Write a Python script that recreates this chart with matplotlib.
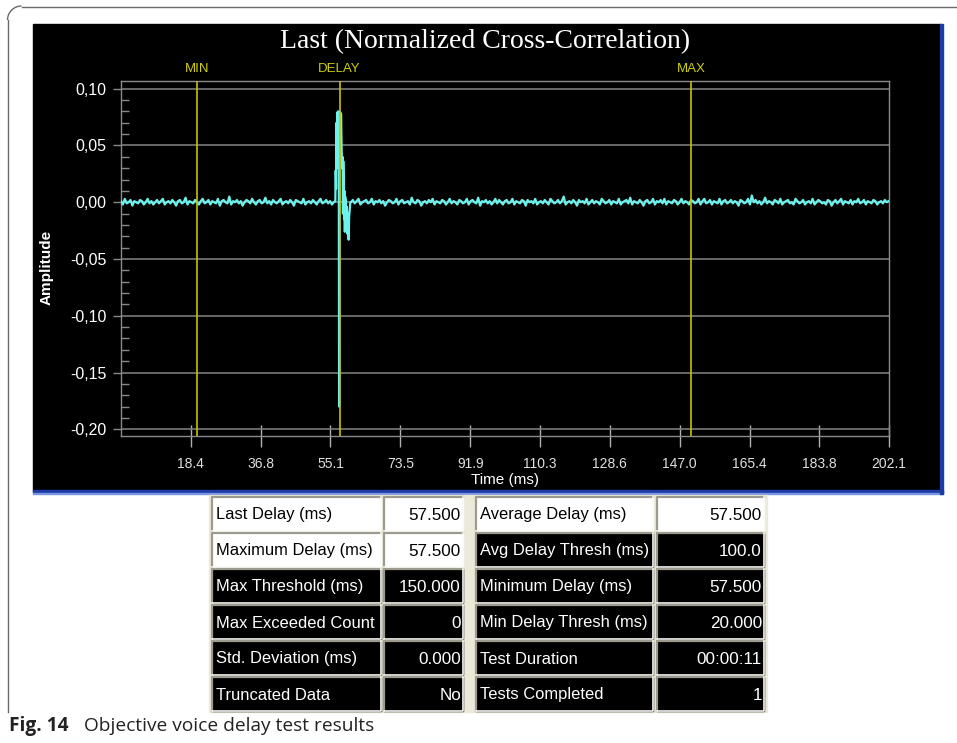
import numpy as np
import matplotlib
matplotlib.use('Agg')
import matplotlib.pyplot as plt
from matplotlib.patches import Rectangle, Arc
from matplotlib.lines import Line2D
from matplotlib.ticker import AutoMinorLocator

W, H = 957, 743

# --- data ---
sample_step = 0.5  # ms between baseline samples

# baseline noise before the correlation peak, in 1e-3 amplitude units (0 .. 56 ms)
noise_before = [
    1, -2, 3, -1, 0, 2, -3, 1, 0, -1, 2, 1, -2, 0, 3, -1, 1, -2, 0, 2,
    -1, 1, 3, -2, 0, 1, -1, 2, 0, -3, 1, 2, -1, 0, 4, -2, 1, 0, -1, 2,
    0, -2, 1, 3, -1, 0, 2, -2, 1, 0, -1, 3, -3, 1, 2, 0, -1, 5, -2, 1,
    0, 2, -1, 1, -3, 0, 2, 1, -1, 3, 0, -2, 1, 2, -1, 0, 4, -1, 1, -2,
    2, 0, -1, 1, 3, -2, 0, 1, -1, 2, 0, -3, 2, 1, 0, -1, 3, -2, 0, 1,
    -1, 2, 0, -2, 1, 3, -1, 0, 2, -1, 1, -2, 0,
]
# the peak itself (ms, amplitude)
spike_t = [56.4, 56.5, 56.6, 56.7, 56.8, 56.9, 57.0, 57.1, 57.2, 57.3, 57.4,
           57.5, 57.6, 57.7, 57.8, 57.9, 58.0, 58.1, 58.2, 58.3, 58.4, 58.5,
           58.6, 58.7, 58.8, 58.9, 59.0, 59.1, 59.2, 59.3, 59.45, 59.6, 59.75,
           59.9, 60.05, 60.2, 60.35]
spike_v = [0.001, 0.028, 0.012, 0.070, 0.030, 0.079, 0.050, 0.080, 0.065,
           0.079, -0.180, 0.080, 0.070, 0.079, 0.045, 0.078, 0.060, 0.040,
           0.030, 0.040, -0.010, 0.036, 0.020, -0.015, 0.010, -0.026, 0.005,
           -0.012, 0.002, -0.020, -0.004, -0.028, -0.010, -0.033, -0.012,
           -0.006, 0.000]
# baseline noise after the peak, 1e-3 units (60.5 .. 202 ms)
after_start = 60.5
noise_after = [
    0, 2, -1, 1, 3, -2, 0, 1, 2, -1, 0, 3, -2, 1, 0, 2, -1, 1, -3, 0,
    2, 1, -1, 0, 3, -2, 1, 2, -1, 0, 1, -2, 4, 0, -1, 2, 1, -3, 0, 1,
    -1, 2, 0, 3, -2, 1, 0, -1, 2, 1, -2, 0, 3, -1, 1, 0, -2, 2, 1, -1,
    0, 3, -2, 1, 2, 0, -1, 4, -3, 1, 0, 2, -1, 1, -2, 0, 3, -1, 2, 0,
    -2, 1, 2, -1, 0, 3, -2, 1, 0, -1, 2, 1, -3, 2, 0, 1, -1, 3, -2, 0,
    1, -1, 2, 0, -2, 3, 1, -1, 0, 2, -1, 1, 5, -2, 0, 1, -1, 2, 0, -3,
    2, 0, 1, -1, 3, -2, 0, 2, -1, 1, 0, -2, 3, 1, -1, 0, 2, -2, 1, 0,
    -1, 3, -2, 0, 1, 2, -1, 4, -2, 1, 0, -1, 2, 0, -3, 1, 2, -1, 0, 3,
    -2, 1, 0, 2, -1, 3, -2, 1, 0, -1, 2, 1, -2, 0, 3, -1, 1, 0, -2, 2,
    1, -1, 0, 3, -2, 1, 3, -1, 0, 2, -2, 1, 0, -1, 3, -2, 1, 2, -1, 0,
    2, -1, 1, 0, -3, 2, 1, -1, 0, 3, -2, 6, 0, 2, -1, 1, -2, 0, 4, -1,
    1, 0, -2, 2, 1, -1, 3, -2, 0, 1, 2, -1, 0, -2, 3, 1, -1, 0, 2, -2,
    0, 1, -1, 3, -2, 0, 2, 1, -1, 0, -2, 2, 1, -3, 0, 2, -1, 1, 3, -2,
    1, 0, -1, 2, -2, 1, 0, 3, -1, 0, 2, -2, 1, 0, -1, 2, 1, -2, 0, 1,
    -1, 2, 0, 1,
]

marker_names = ['MIN', 'DELAY', 'MAX']
marker_ms = [20.0, 57.5, 150.0]

xtick_labels = ['18.4', '36.8', '55.1', '73.5', '91.9', '110.3', '128.6',
                '147.0', '165.4', '183.8', '202.1']
ytick_vals = [0.10, 0.05, 0.00, -0.05, -0.10, -0.15, -0.20]

left_labels = ['Last Delay (ms)', 'Maximum Delay (ms)', 'Max Threshold (ms)',
               'Max Exceeded Count', 'Std. Deviation (ms)', 'Truncated Data']
left_values = ['57.500', '57.500', '150.000', '0', '0.000', 'No']
right_labels = ['Average Delay (ms)', 'Avg Delay Thresh (ms)', 'Minimum Delay (ms)',
                'Min Delay Thresh (ms)', 'Test Duration', 'Tests Completed']
right_values = ['57.500', '100.0', '57.500', '20.000', '00:00:11', '1']
# cells shown with white background (row, col)
white_cells = {(0, 0), (0, 1), (0, 2), (0, 3), (1, 0), (1, 1)}

# --- build the trace ---
t = np.concatenate([np.arange(len(noise_before)) * sample_step,
                    spike_t,
                    after_start + np.arange(len(noise_after)) * sample_step])
amp = np.concatenate([np.array(noise_before) * 1e-3,
                      spike_v,
                      np.array(noise_after) * 1e-3])

sans = ['Liberation Sans', 'DejaVu Sans']

fig = plt.figure(figsize=(W / 100, H / 100), dpi=100)
fig.patch.set_facecolor('white')

# background layer in pixel coordinates
bg = fig.add_axes([0, 0, 1, 1], zorder=0)
bg.set_xlim(0, W)
bg.set_ylim(H, 0)
bg.axis('off')

# outer rounded frame (top + left only)
frame_c = '#6a6a6a'
bg.add_line(Line2D([7.5, 7.5], [712, 20], color=frame_c, lw=1))
bg.add_patch(Arc((21.5, 20), 28, 28, theta1=180, theta2=270, color=frame_c, lw=1))
bg.add_line(Line2D([21.5, W], [6.5, 6.5], color=frame_c, lw=1))

# black screenshot panel with blue window edge
bg.add_patch(Rectangle((33, 24), 908, 467, color='black'))
bg.add_patch(Rectangle((33, 490), 910, 2.5, color='#1d3aa6'))
bg.add_patch(Rectangle((33, 492.5), 910, 1.5, color='#7894e0'))
bg.add_patch(Rectangle((940, 24), 2.5, 470, color='#1d3aa6'))

# results table
col_x = [(212, 381), (384, 463), (476, 653), (657, 764)]
row_top, row_pitch, row_h = 497, 36, 34
bg.add_patch(Rectangle((209, 495), 558, 217, color='#ece9d8'))
for r in range(len(left_labels)):
    texts = [left_labels[r], left_values[r], right_labels[r], right_values[r]]
    y0 = row_top + r * row_pitch
    for c, (x0, x1) in enumerate(col_x):
        is_white = (r, c) in white_cells
        fill = 'white' if is_white else 'black'
        bg.add_patch(Rectangle((x0, y0), x1 - x0, row_h, color=fill))
        bg.add_line(Line2D([x0, x0, x1], [y0 + row_h, y0, y0], color='#9d9b90', lw=1.6))
        bg.add_line(Line2D([x1, x1, x0], [y0, y0 + row_h, y0 + row_h], color='#faf9f5', lw=1.2))
        tc = 'black' if is_white else 'white'
        if c in (0, 2):
            bg.text(x0 + 4, y0 + row_h / 2 + 1, texts[c], ha='left', va='center',
                    color=tc, fontsize=11.9, family=sans)
        else:
            bg.text(x1 - 2, y0 + row_h / 2 + 1, texts[c], ha='right', va='center',
                    color=tc, fontsize=12.3, family=sans)

# caption
cap_font = ['Open Sans', 'DejaVu Sans']
fig.text(9 / W, 1 - 726 / H, 'Fig. 14', fontsize=13.8, fontweight='bold',
         family=cap_font, va='center', ha='left', color='#222222')
fig.text(84 / W, 1 - 726 / H, 'Objective voice delay test results', fontsize=13.8,
         family=cap_font, va='center', ha='left', color='#222222')

# --- correlation plot ---
ax = fig.add_axes([121 / W, 1 - 436 / H, (889 - 121) / W, (436 - 81) / H], zorder=1)
ax.set_facecolor('black')
ax.set_xlim(0, 202.1)
ax.set_ylim(-0.2059, 0.1068)

ax.plot(t, amp, color='#6cf2ec', lw=1.6, zorder=3)
for name, ms in zip(marker_names, marker_ms):
    ax.axvline(ms, color='#c8c000', lw=1.2, zorder=4)
    ax.text(ms, 1.034, name, transform=ax.get_xaxis_transform(), ha='center',
            va='center', color='#d0d000', fontsize=9.5, family=sans)

ax.set_yticks(ytick_vals)
ax.set_yticklabels([f'{v:.2f}'.replace('.', ',') for v in ytick_vals])
ax.yaxis.set_minor_locator(AutoMinorLocator(5))
ax.yaxis.grid(True, which='major', color='#7a7a7a', lw=1.2)
ax.set_axisbelow(True)
ax.tick_params(axis='y', which='major', direction='out', length=5.5, width=1,
               color='#8a8a8a', labelcolor='white', labelsize=11.5, pad=5)
ax.tick_params(axis='y', which='minor', direction='in', length=5.8, width=1,
               color='#8a8a8a')
for lab in ax.get_yticklabels():
    lab.set_family(sans)

ax.set_xticks([float(s) for s in xtick_labels])
ax.set_xticklabels(xtick_labels)
ax.tick_params(axis='x', which='major', direction='inout', length=16, width=1,
               color='#b0b0b0', labelcolor='#e0e0e0', labelsize=10, pad=7)
for lab in ax.get_xticklabels():
    lab.set_family(sans)

for sp in ax.spines.values():
    sp.set_color('#8a8a8a')
    sp.set_linewidth(1)

fig.text(505 / W, 1 - 480 / H, 'Time (ms)', ha='center', va='center', color='white',
         fontsize=11, family=sans)
fig.text(46.5 / W, 1 - 267 / H, 'Amplitude', ha='center', va='center', color='white',
         fontsize=11, fontweight='bold', rotation=90, family=sans)
fig.text(485 / W, 1 - 41.5 / H, 'Last (Normalized Cross-Correlation)', ha='center',
         va='center', color='white', fontsize=20,
         family=['Liberation Serif', 'DejaVu Serif'])

fig.savefig('out.png', dpi=100, facecolor='white')
